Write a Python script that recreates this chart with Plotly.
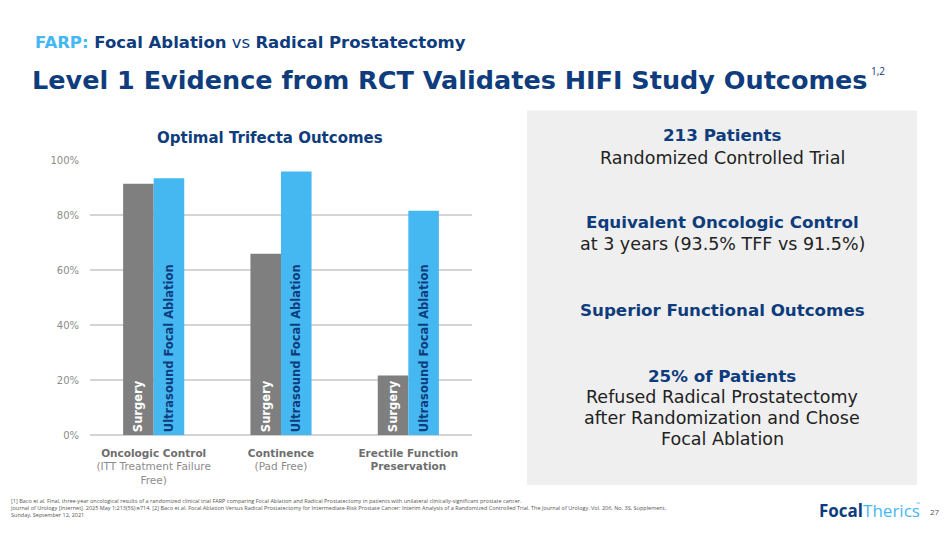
import plotly.graph_objects as go

categories = ["Oncologic Control", "Continence", "Erectile Function Preservation"]
cat_ticktext = [
    "<b>Oncologic Control</b><br><span style='color:#8c8c8c'>(ITT Treatment Failure<br>Free)</span>",
    "<b>Continence</b><br><span style='color:#8c8c8c'>(Pad Free)</span>",
    "<b>Erectile Function<br>Preservation</b>",
]
surgery = [91.5, 66, 21.7]
ufa = [93.5, 96, 81.7]
series_names = ["Surgery", "Ultrasound Focal Ablation"]
ytick_vals = [0, 20, 40, 60, 80, 100]
ytick_text = ["0%", "20%", "40%", "60%", "80%", "100%"]

NAVY = "#0e3c7c"
LBLUE = "#45b8f2"
GRAY = "#7f7f7f"
FONT = "DejaVu Sans"

W, H = 950, 535
def px(x): return x / W
def py(y): return 1 - y / H

fig = go.Figure()
fig.add_trace(go.Bar(
    x=categories, y=surgery, name=series_names[0],
    marker=dict(color=GRAY, line=dict(width=0)),
    text=[series_names[0]] * len(categories), textposition="inside",
    insidetextanchor="start", textangle=-90,
    textfont=dict(family=FONT, size=11.5, color="white", weight="bold"),
    hoverinfo="skip",
))
fig.add_trace(go.Bar(
    x=categories, y=ufa, name=series_names[1],
    marker=dict(color=LBLUE, line=dict(width=0)),
    text=[series_names[1]] * len(categories), textposition="inside",
    insidetextanchor="start", textangle=-90,
    textfont=dict(family=FONT, size=11.5, color=NAVY, weight="bold"),
    hoverinfo="skip",
))

fig.update_layout(
    width=W, height=H, margin=dict(l=0, r=0, t=0, b=0),
    paper_bgcolor="white", plot_bgcolor="white",
    showlegend=False, barmode="group", bargap=0.52, bargroupgap=0,
    uniformtext=dict(minsize=11.5, mode="show"),
    font=dict(family=FONT),
    xaxis=dict(domain=[px(90), px(472)], tickvals=categories, ticktext=cat_ticktext,
               tickfont=dict(size=10.5, color="#6e6e6e"), showline=False, showgrid=False,
               ticks="", ticklabelstandoff=10),
    yaxis=dict(domain=[py(439), py(158)], range=[0, 100], tickvals=ytick_vals,
               ticktext=ytick_text, tickfont=dict(size=10, color="#8c8c8c"),
               showgrid=True, gridcolor="#d4d4d4", gridwidth=1.5, zeroline=True,
               zerolinecolor="#d4d4d4", zerolinewidth=1.5, showline=False,
               ticks="", ticklabelstandoff=10),
)

shapes = [dict(type="rect", xref="paper", yref="paper", x0=px(527), x1=px(917),
               y0=py(490), y1=py(107), fillcolor="#efefef", line=dict(width=0), layer="below")]
fig.update_layout(shapes=shapes)

ann = []
def A(text, x, y, size, color, xanchor="left", family=FONT, yanchor="middle"):
    ann.append(dict(text=text, x=px(x), y=py(y), xref="paper", yref="paper",
                    xanchor=xanchor, yanchor=yanchor, showarrow=False,
                    font=dict(family=family, size=size, color=color), align="center"))

A(f"<b><span style='color:{LBLUE}'>FARP:</span> Focal Ablation</b> vs <b>Radical Prostatectomy</b>",
  33, 37, 16.5, NAVY)
A("<b>Level 1 Evidence from RCT Validates HIFI Study Outcomes</b>", 30, 76, 25.5, NAVY)
A("1,2", 869, 66, 10, NAVY, family="Open Sans")
A("<b>Optimal Trifecta Outcomes</b>", 270, 135, 15, NAVY, xanchor="center")

cx = 722
A("<b>213 Patients</b>", cx, 132, 16.7, NAVY, xanchor="center")
A("Randomized Controlled Trial", cx, 155, 17.5, "#222222", xanchor="center")
A("<b>Equivalent Oncologic Control</b>", cx, 221, 16.7, NAVY, xanchor="center")
A("at 3 years (93.5% TFF vs 91.5%)", cx, 243, 17.5, "#222222", xanchor="center")
A("<b>Superior Functional Outcomes</b>", cx, 311, 16.7, NAVY, xanchor="center")
A("<b>25% of Patients</b>", cx, 378, 16.7, NAVY, xanchor="center")
A("Refused Radical Prostatectomy", cx, 400, 17.5, "#222222", xanchor="center")
A("after Randomization and Chose", cx, 421, 17.5, "#222222", xanchor="center")
A("Focal Ablation", cx, 443, 17.5, "#222222", xanchor="center")

foot = ("[1] Baco et al. Final, three-year oncological results of a randomized clinical trial FARP comparing Focal Ablation and Radical Prostatectomy in patients with unilateral clinically-significant prostate cancer.<br>"
        "Journal of Urology [Internet]. 2025 May 1;213(5S):e714. [2] Baco et al. Focal Ablation Versus Radical Prostatectomy for Intermediate-Risk Prostate Cancer: Interim Analysis of a Randomized Controlled Trial. The Journal of Urology. Vol. 206, No. 3S, Supplement,<br>"
        "Sunday, September 12, 2021")
ann.append(dict(text=foot, x=px(8), y=py(514), xref="paper", yref="paper", xanchor="left",
                yanchor="middle", showarrow=False, align="left",
                font=dict(family="Open Sans", size=5.5, color="#555555")))
A(f"<b>Focal</b><span style='color:{LBLUE}'>Therics</span>", 817, 516, 17, NAVY,
  family="Open Sans")
A("™", 914, 509, 5, LBLUE, family="Open Sans")
A("27", 935, 517, 8, "#555555", xanchor="center", family="Open Sans")

fig.update_layout(annotations=ann)
fig.write_html("out.html", config={"displayModeBar": False},
               post_script="document.body.style.margin='0';document.body.style.overflow='hidden';")
